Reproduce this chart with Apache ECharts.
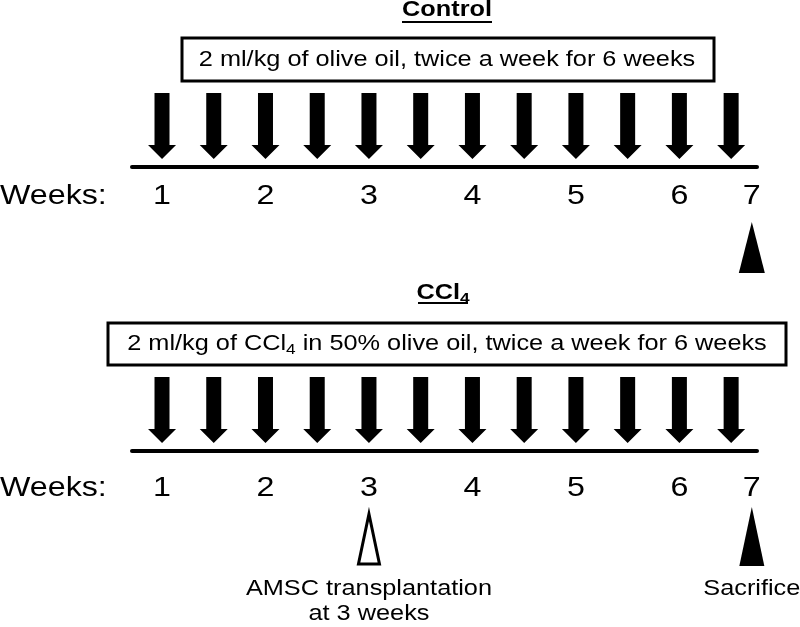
<!DOCTYPE html>
<html>
<head>
<meta charset="utf-8">
<script src="https://cdn.jsdelivr.net/npm/echarts@6/dist/echarts.min.js"></script>
<style>html,body{margin:0;padding:0;background:#fff}#c{width:800px;height:627px}</style>
</head>
<body>
<div id="c"></div>
<script>
// ---- data ----
const injectionWeeks = [1, 1.5, 2, 2.5, 3, 3.5, 4, 4.5, 5, 5.5, 6, 6.5];
const weekTickPos = [1, 2, 3, 4, 5, 6, 6.7];
const weekTickLabels = ['1', '2', '3', '4', '5', '6', '7'];
const sacrificeWeek = 6.7;
const transplantWeek = 3;
const panelTitles = ['Control', 'CCl{sub|4}'];
const panelBoxTexts = [
  '2 ml/kg of olive oil, twice a week for 6 weeks',
  '2 ml/kg of CCl{sub|4} in 50% olive oil, twice a week for 6 weeks'
];
const rowLabel = 'Weeks:';
const transplantLabel = 'AMSC transplantation\nat 3 weeks';
const sacrificeLabel = 'Sacrifice';

// ---- style ----
const FONT = "'Liberation Sans', Arial, sans-serif";
const FS = 22;
const FSW = 28;
const SX = 1.15;
const chart = echarts.init(document.getElementById('c'), null, {renderer: 'canvas'});

function arrowItem(params, api) {
  const p = api.coord([api.value(0), 0]);
  const x = p[0], y0 = p[1];
  return {
    type: 'polygon',
    shape: {points: [[x - 7.5, y0 - 74], [x + 7.5, y0 - 74], [x + 7.5, y0 - 22], [x + 14, y0 - 22],
      [x, y0 - 8], [x - 14, y0 - 22], [x - 7.5, y0 - 22]]},
    style: {fill: '#000'}
  };
}
function weekLabelItem(offset) {
  return function (params, api) {
    const p = api.coord([api.value(0), 0]);
    return {
      type: 'text', x: p[0], y: p[1] + offset, scaleX: SX,
      style: {text: weekTickLabels[params.dataIndex], fill: '#000', font: FSW + 'px ' + FONT,
        textAlign: 'center', textVerticalAlign: 'middle'}
    };
  };
}
function sacrificeItem(top, bottom, half, withText) {
  return function (params, api) {
    const p = api.coord([api.value(0), 0]);
    const x = p[0], y0 = p[1];
    const children = [{
      type: 'polygon',
      shape: {points: [[x, y0 + top], [x + half, y0 + bottom], [x - half, y0 + bottom]]},
      style: {fill: '#000'}
    }];
    if (withText) children.push({
      type: 'text', x: x, y: y0 + 138, scaleX: SX,
      style: {text: sacrificeLabel, fill: '#000', font: FS + 'px ' + FONT, textAlign: 'center', textVerticalAlign: 'middle'}
    });
    return {type: 'group', children: children};
  };
}
function transplantItem(params, api) {
  const p = api.coord([api.value(0), 0]);
  const x = p[0], y0 = p[1];
  return {type: 'group', children: [
    {type: 'polygon', shape: {points: [[x, y0 + 63], [x + 10.5, y0 + 113], [x - 10.5, y0 + 113]]},
      style: {fill: '#fff', stroke: '#000', lineWidth: 3, lineJoin: 'miter'}},
    {type: 'text', x: x, y: y0 + 150, scaleX: SX,
      style: {text: transplantLabel, fill: '#000', font: FS + 'px ' + FONT, textAlign: 'center',
        textVerticalAlign: 'middle', lineHeight: 25}}
  ]};
}

const axisBase = {type: 'value', min: 0.71, max: 6.75, axisLine: {show: true, lineStyle: {color: '#000', width: 4}},
  axisTick: {show: false}, axisLabel: {show: false}, splitLine: {show: false}};
const yBase = {type: 'value', min: 0, max: 1, show: false};

const subRich = {sub: {fontSize: 15, fontFamily: FONT, padding: [12, 0, 0, 0]}};
const subRichBold = {sub: {fontSize: 15, fontFamily: FONT, fontWeight: 'bold', padding: [12, 0, 0, 0]}};

const option = {
  backgroundColor: '#fff',
  animation: false,
  grid: [
    {left: 132, right: 43, top: 80, bottom: 627 - 167},
    {left: 132, right: 43, top: 370, bottom: 627 - 451}
  ],
  xAxis: [Object.assign({gridIndex: 0}, axisBase), Object.assign({gridIndex: 1}, axisBase)],
  yAxis: [Object.assign({gridIndex: 0}, yBase), Object.assign({gridIndex: 1}, yBase)],
  graphic: [
    // titles
    {type: 'text', x: 447, y: 10, scaleX: SX, style: {text: panelTitles[0], font: 'bold ' + FS + 'px ' + FONT, fill: '#000', textAlign: 'center', textVerticalAlign: 'middle'}},
    {type: 'line', shape: {x1: 402, y1: 22, x2: 492, y2: 22}, style: {stroke: '#000', lineWidth: 2}},
    {type: 'text', x: 443, y: 293, scaleX: SX, style: {text: panelTitles[1], font: 'bold ' + FS + 'px ' + FONT, fill: '#000', textAlign: 'center', textVerticalAlign: 'middle', rich: subRichBold}},
    {type: 'line', shape: {x1: 418, y1: 303, x2: 468, y2: 303}, style: {stroke: '#000', lineWidth: 2}},
    // boxes
    {type: 'rect', shape: {x: 182, y: 38, width: 532, height: 43}, style: {fill: '#fff', stroke: '#000', lineWidth: 3}},
    {type: 'text', x: 447, y: 60, scaleX: SX, style: {text: panelBoxTexts[0], font: FS + 'px ' + FONT, fill: '#000', textAlign: 'center', textVerticalAlign: 'middle'}},
    {type: 'rect', shape: {x: 108, y: 323, width: 678, height: 42}, style: {fill: '#fff', stroke: '#000', lineWidth: 3}},
    {type: 'text', x: 447, y: 344, scaleX: SX, style: {text: panelBoxTexts[1], font: FS + 'px ' + FONT, fill: '#000', textAlign: 'center', textVerticalAlign: 'middle', rich: subRich}},
    // "Weeks:" row labels
    {type: 'text', x: 0, y: 196, scaleX: SX, style: {text: rowLabel, font: FSW + 'px ' + FONT, fill: '#000', textAlign: 'left', textVerticalAlign: 'middle'}},
    {type: 'text', x: 0, y: 488, scaleX: SX, style: {text: rowLabel, font: FSW + 'px ' + FONT, fill: '#000', textAlign: 'left', textVerticalAlign: 'middle'}}
  ],
  series: [
    {type: 'custom', xAxisIndex: 0, yAxisIndex: 0, clip: false, data: injectionWeeks.map(w => [w, 0]), renderItem: arrowItem},
    {type: 'custom', xAxisIndex: 1, yAxisIndex: 1, clip: false, data: injectionWeeks.map(w => [w, 0]), renderItem: arrowItem},
    {type: 'custom', xAxisIndex: 0, yAxisIndex: 0, clip: false, data: weekTickPos.map(w => [w, 0]), renderItem: weekLabelItem(29)},
    {type: 'custom', xAxisIndex: 1, yAxisIndex: 1, clip: false, data: weekTickPos.map(w => [w, 0]), renderItem: weekLabelItem(37)},
    {type: 'custom', xAxisIndex: 0, yAxisIndex: 0, clip: false, data: [[sacrificeWeek, 0]], renderItem: sacrificeItem(55, 106, 13, false)},
    {type: 'custom', xAxisIndex: 1, yAxisIndex: 1, clip: false, data: [[sacrificeWeek, 0]], renderItem: sacrificeItem(56, 115, 12.5, true)},
    {type: 'custom', xAxisIndex: 1, yAxisIndex: 1, clip: false, data: [[transplantWeek, 0]], renderItem: transplantItem}
  ]
};
chart.setOption(option);
</script>
</body>
</html>
